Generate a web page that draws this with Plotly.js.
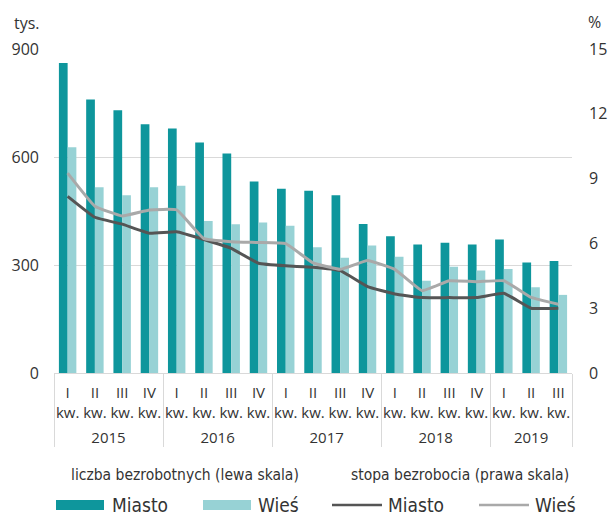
<!DOCTYPE html>
<html>
<head>
<meta charset="utf-8">
<script src="https://cdn.plot.ly/plotly-3.0.1.min.js"></script>
<style>
html,body{margin:0;padding:0;background:#fff;}
#chart{width:608px;height:517px;}
</style>
</head>
<body>
<div id="chart"></div>
<script>
// ---- data ----
const years = ['2015','2015','2015','2015','2016','2016','2016','2016','2017','2017','2017','2017','2018','2018','2018','2018','2019','2019','2019'];
const quarters = ['I','II','III','IV','I','II','III','IV','I','II','III','IV','I','II','III','IV','I','II','III'];
const quarterSuffix = 'kw.';
const miastoCount = [861,760,730,691,679,640,610,532,512,506,494,414,380,357,362,357,371,307,311];
const wiesCount   = [627,516,494,516,520,422,413,418,409,349,320,354,323,256,295,285,289,238,217];
const miastoRate  = [8.18,7.21,6.89,6.47,6.54,6.18,5.77,5.08,4.96,4.90,4.74,4.00,3.66,3.49,3.49,3.49,3.69,3.00,3.00];
const wiesRate    = [9.25,7.72,7.27,7.55,7.55,6.22,6.08,6.04,5.99,5.10,4.80,5.21,4.80,3.81,4.27,4.23,4.27,3.50,3.18];
const seriesNames = ['Miasto','Wieś','Miasto','Wieś'];
const groupTitles = ['liczba bezrobotnych (lewa skala)','stopa bezrobocia (prawa skala)'];
const leftTicks = [0,300,600,900];
const rightTicks = [0,3,6,9,12,15];

// ---- styles ----
const cTeal = '#0e969c', cLight = '#97d2d5', cDark = '#555555', cGray = '#a9a9a9';
const axisFont = {family:'Open Sans, sans-serif', size:16, color:'#333333'};
const narrow = 'Liberation Sans Narrow, DejaVu Sans Condensed, Open Sans, sans-serif';

const innerLabels = quarters.map(q => q + '<br>' + quarterSuffix);
const outerLabels = years.map(y => '<span style="baseline-shift:-9px">' + y + '</span>');
const xCats = [outerLabels, innerLabels];

const traces = [
  {type:'bar', x:xCats, y:miastoCount, name:seriesNames[0], marker:{color:cTeal}, hoverinfo:'skip'},
  {type:'bar', x:xCats, y:wiesCount, name:seriesNames[1], marker:{color:cLight}, hoverinfo:'skip'},
  {type:'scatter', mode:'lines', x:xCats, y:miastoRate, name:seriesNames[2], yaxis:'y2', line:{color:cDark, width:3, shape:'spline', smoothing:0.3}, hoverinfo:'skip'},
  {type:'scatter', mode:'lines', x:xCats, y:wiesRate, name:seriesNames[3], yaxis:'y2', line:{color:cGray, width:3, shape:'spline', smoothing:0.3}, hoverinfo:'skip'}
];

// plot area in pixels
const L = 54, R = 572, T = 49, B = 373;
const px = v => (v - L) / (R - L);
const py = v => (B - v) / (B - T);

// manual legend
const shapes = [
  {type:'rect', xref:'paper', yref:'paper', x0:px(56), x1:px(104), y0:py(510), y1:py(500), fillcolor:cTeal, line:{width:0}},
  {type:'rect', xref:'paper', yref:'paper', x0:px(203), x1:px(251), y0:py(510), y1:py(500), fillcolor:cLight, line:{width:0}},
  {type:'line', xref:'paper', yref:'paper', x0:px(332), x1:px(382), y0:py(505), y1:py(505), line:{color:cDark, width:2.5}},
  {type:'line', xref:'paper', yref:'paper', x0:px(479), x1:px(529), y0:py(505), y1:py(505), line:{color:cGray, width:2.5}}
];
const legFont = {family:narrow, size:19, color:'#333333'};
const hdrFont = {family:narrow, size:15.5, color:'#333333'};
const annotations = [
  {text:'tys.', xref:'paper', yref:'paper', x:px(27), y:py(23), showarrow:false, font:axisFont, xanchor:'center', yanchor:'middle'},
  {text:'%', xref:'paper', yref:'paper', x:px(594), y:py(22), showarrow:false, font:axisFont, xanchor:'center', yanchor:'middle'},
  {text:groupTitles[0], xref:'paper', yref:'paper', x:px(185), y:py(475), showarrow:false, font:hdrFont, xanchor:'center', yanchor:'middle'},
  {text:groupTitles[1], xref:'paper', yref:'paper', x:px(460), y:py(475), showarrow:false, font:hdrFont, xanchor:'center', yanchor:'middle'},
  {text:seriesNames[0], xref:'paper', yref:'paper', x:px(110), y:py(505), showarrow:false, font:legFont, xanchor:'left', yanchor:'middle'},
  {text:seriesNames[1], xref:'paper', yref:'paper', x:px(256), y:py(505), showarrow:false, font:legFont, xanchor:'left', yanchor:'middle'},
  {text:seriesNames[2], xref:'paper', yref:'paper', x:px(386), y:py(505), showarrow:false, font:legFont, xanchor:'left', yanchor:'middle'},
  {text:seriesNames[3], xref:'paper', yref:'paper', x:px(533), y:py(505), showarrow:false, font:legFont, xanchor:'left', yanchor:'middle'}
];

const layout = {
  width:608, height:517,
  margin:{l:L, r:608-R, t:T, b:517-B, pad:0},
  paper_bgcolor:'#ffffff', plot_bgcolor:'#ffffff',
  showlegend:false,
  barmode:'group', bargap:0.36, bargroupgap:0,
  xaxis:{type:'multicategory', showdividers:true, dividercolor:'#d9d9d9', dividerwidth:1,
         showline:true, linecolor:'#d9d9d9', linewidth:1, showgrid:false, ticks:'', tickangle:0,
         ticklabelstandoff:6,
         tickfont:{family:'Open Sans, sans-serif', size:15, color:'#333333'}, fixedrange:true},
  yaxis:{range:[0,900], tickvals:leftTicks, showgrid:true, gridcolor:'#d9d9d9', gridwidth:1,
         zeroline:false, showline:false, ticks:'', tickfont:axisFont, ticklabelstandoff:14, fixedrange:true},
  yaxis2:{range:[0,15], tickvals:rightTicks, overlaying:'y', side:'right', showgrid:false,
          zeroline:false, showline:false, ticks:'', tickfont:axisFont, ticklabelstandoff:16, fixedrange:true},
  shapes:shapes,
  annotations:annotations
};

Plotly.newPlot('chart', traces, layout, {displayModeBar:false, staticPlot:true});
</script>
</body>
</html>
